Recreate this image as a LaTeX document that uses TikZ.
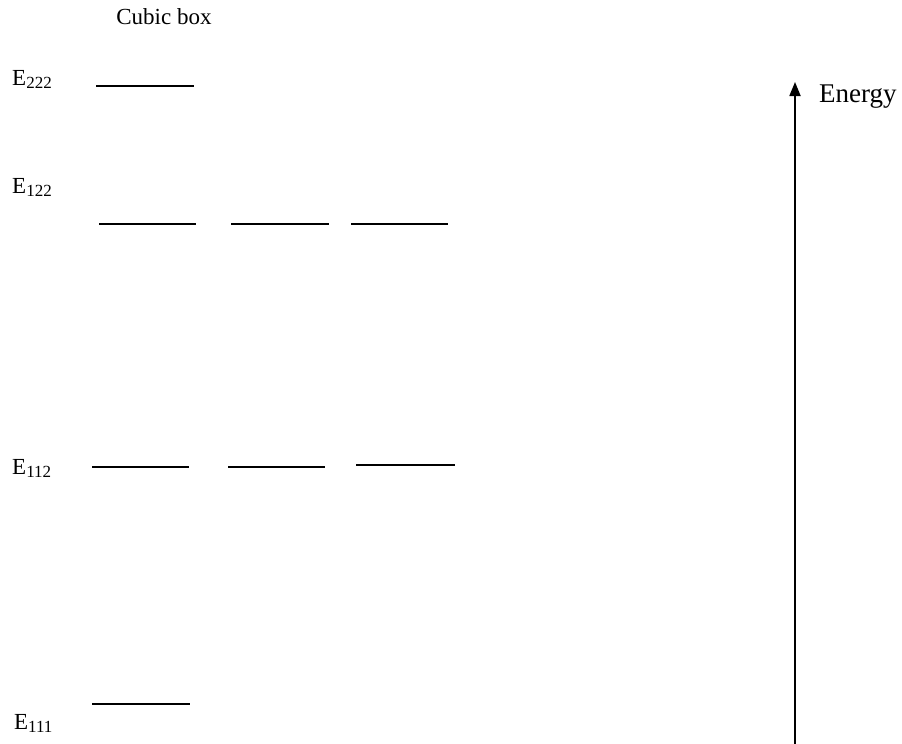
\documentclass[tikz,border=0pt]{standalone}
\usepackage{fontspec}
\setmainfont{Liberation Serif}
\usetikzlibrary{arrows.meta}
\newcommand{\lvsub}[1]{\raisebox{-3pt}{\fontsize{17}{17}\selectfont #1}}
\begin{document}
\begin{tikzpicture}[x=1pt,y=-1pt,
  level/.style={line width=1.8pt},
  elabel/.style={font=\fontsize{23}{23}\selectfont, anchor=west, inner sep=0pt},
  title/.style={font=\fontsize{23}{23}\selectfont, inner sep=0pt}]
  \useasboundingbox (0,0) rectangle (902,744);

  % heading
  \node[title] (head) at (164,17) {Cubic box};

  % level labels
  \node[elabel] (e222) at (12,79) {E\lvsub{222}};
  \node[elabel] (e122) at (12,187) {E\lvsub{122}};
  \node[elabel] (e112) at (12,468) {E\lvsub{112}};
  \node[elabel] (e111) at (14,723) {E\lvsub{111}};

  % energy levels
  \draw[level] (96,86) -- (194,86);
  \draw[level] (99,224) -- (196,224);
  \draw[level] (231,224) -- (329,224);
  \draw[level] (351,224) -- (448,224);
  \draw[level] (92,467) -- (189,467);
  \draw[level] (228,467) -- (325,467);
  \draw[level] (356,465) -- (455,465);
  \draw[level] (92,704) -- (190,704);

  % energy axis
  \coordinate (axbot) at (795,744);
  \coordinate (axtop) at (795,82);
  \draw[line width=1.8pt, -{Triangle[length=14pt,width=11pt]}] (axbot) -- (axtop);
  \node[title, anchor=west, font=\fontsize{27}{27}\selectfont] (energy) at (819,97) {Energy};
\end{tikzpicture}
\end{document}
